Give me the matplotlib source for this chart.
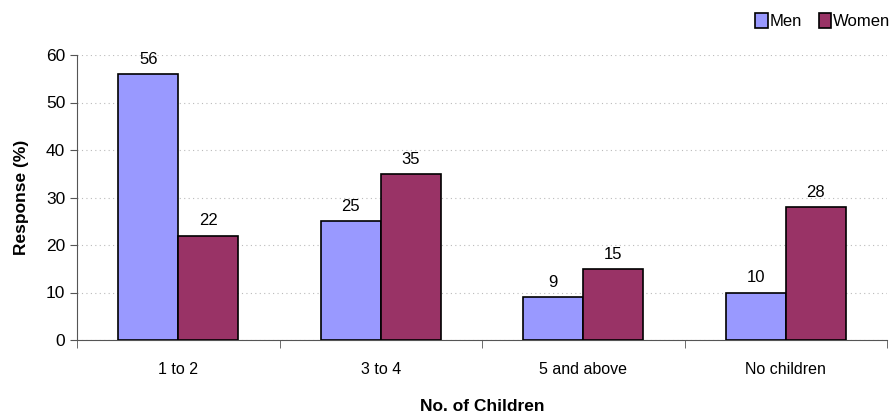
import matplotlib
matplotlib.use("Agg")
import matplotlib.pyplot as plt
import numpy as np

categories = ["1 to 2", "3 to 4", "5 and above", "No children"]
men = [56, 25, 9, 10]
women = [22, 35, 15, 28]

plt.rcParams['font.family'] = ['Liberation Sans', 'DejaVu Sans']

fig = plt.figure(figsize=(8.9, 4.13), dpi=100)
ax = fig.add_axes([77/890, 1-340/413, 810/890, 285/413])

x = np.arange(len(categories))
w = 0.296
b1 = ax.bar(x - w/2, men, w, color="#9999FF", edgecolor="black", linewidth=1.2, label="Men", zorder=3)
b2 = ax.bar(x + w/2, women, w, color="#993366", edgecolor="black", linewidth=1.2, label="Women", zorder=3)
for bars, vals in ((b1, men), (b2, women)):
    for r, v in zip(bars, vals):
        ax.text(r.get_x() + r.get_width()/2, v + 1.5, str(v), ha="center", va="bottom", fontsize=12)

ax.set_xlim(-0.5, len(categories) - 0.5)
ax.set_ylim(0, 60)
ax.set_yticks(range(0, 61, 10))
ax.yaxis.grid(True, linestyle=(0, (1, 3)), color="#bbbbbb", linewidth=0.8, zorder=0)
ax.set_xticks(x)
ax.set_xticklabels(categories, fontsize=11.5)
ax.set_xticks(np.arange(-0.5, len(categories)), minor=True)
ax.tick_params(axis="x", which="major", length=0, pad=16)
ax.tick_params(axis="x", which="minor", length=6, color="#555555")
ax.tick_params(axis="y", labelsize=12.5, length=5, color="#555555")
for s in ("top", "right"):
    ax.spines[s].set_visible(False)
ax.spines["left"].set_color("#555555")
ax.spines["bottom"].set_color("#555555")

ax.set_ylabel("Response (%)", fontsize=12.5, fontweight="bold", labelpad=12)
ax.set_xlabel("No. of Children", fontsize=12.5, fontweight="bold", labelpad=16)

fig.legend(handles=[b1, b2], labels=["Men", "Women"], loc="upper left",
           bbox_to_anchor=(742/890, 1.0), ncol=2, frameon=False, fontsize=12,
           handlelength=0.75, handleheight=1.0, handletextpad=0.1, columnspacing=1.0,
           borderaxespad=0.4)

fig.savefig("out.png", dpi=100)
